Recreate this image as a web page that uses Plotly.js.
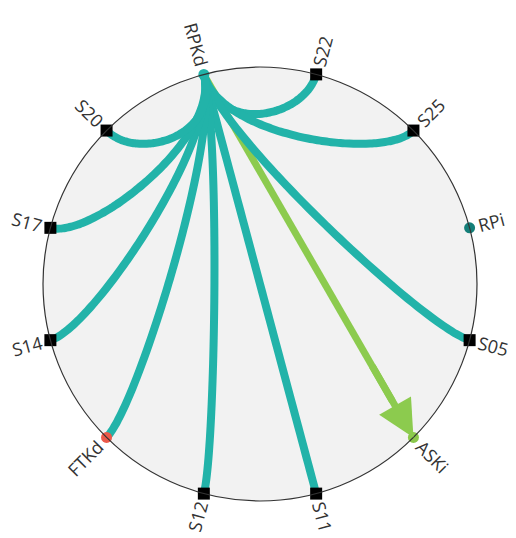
<!DOCTYPE html>
<html>
<head>
<meta charset="utf-8">
<script src="https://cdn.plot.ly/plotly-3.0.1.min.js"></script>
<style>
  html, body { margin: 0; padding: 0; background: #ffffff; }
  #chart { width: 516px; height: 538px; }
</style>
</head>
<body>
<div id="chart"></div>
<script>
// ---- data ----
const nodeNames  = ['RPKd', 'S22', 'S25', 'RPi', 'S05', 'ASKi', 'S11', 'S12', 'FTKd', 'S14', 'S17', 'S20'];
const nodeKinds  = ['circle', 'square', 'square', 'circle', 'square', 'circle', 'square', 'square', 'circle', 'square', 'square', 'square'];
const nodeColors = ['#22b3a9', '#000000', '#000000', '#147f79', '#000000', '#8cc84b', '#000000', '#000000', '#ea5a4b', '#000000', '#000000', '#000000'];
const edgeSources = ['RPKd', 'RPKd', 'RPKd', 'RPKd', 'RPKd', 'RPKd', 'RPKd', 'RPKd', 'RPKd'];
const edgeTargets = ['S22', 'S25', 'S05', 'S11', 'S12', 'FTKd', 'S14', 'S17', 'S20'];
const arrowSources = ['RPKd'];
const arrowTargets = ['ASKi'];

// ---- styling / geometry ----
const R_PX = 217;           // px per data unit (circle radius = 1)
const START_DEG = 105, STEP_DEG = -30;
const TEAL = '#22b3a9', GREEN = '#8ccb4e';
const LABEL_FONT = 'Open Sans, sans-serif';
const LABEL_SIZE = 18;

const angleOf = {};
const posOf = {};
nodeNames.forEach((n, i) => {
  const a = START_DEG + STEP_DEG * i;
  angleOf[n] = a;
  const r = a * Math.PI / 180;
  posOf[n] = [Math.cos(r), Math.sin(r)];
});

function bezier(p0, p3, k1, k2, n) {
  const p1 = [p0[0] * k1, p0[1] * k1];
  const p2 = [p3[0] * k2, p3[1] * k2];
  const xs = [], ys = [];
  for (let i = 0; i <= n; i++) {
    const t = i / n, u = 1 - t;
    const b0 = u * u * u, b1 = 3 * u * u * t, b2 = 3 * u * t * t, b3 = t * t * t;
    xs.push(b0 * p0[0] + b1 * p1[0] + b2 * p2[0] + b3 * p3[0]);
    ys.push(b0 * p0[1] + b1 * p1[1] + b2 * p2[1] + b3 * p3[1]);
  }
  return [xs, ys];
}

const traces = [];

// green arrow shaft (under the teal edges)
arrowSources.forEach((s, i) => {
  const a = posOf[s], b = posOf[arrowTargets[i]];
  traces.push({
    type: 'scatter', mode: 'lines', hoverinfo: 'skip', showlegend: false,
    x: [a[0], a[0] + (b[0] - a[0]) * 0.9], y: [a[1], a[1] + (b[1] - a[1]) * 0.9],
    line: { color: GREEN, width: 7 }
  });
});

// teal edges
edgeSources.forEach((s, i) => {
  const [xs, ys] = bezier(posOf[s], posOf[edgeTargets[i]], 0.7, 0.8, 60);
  traces.push({
    type: 'scatter', mode: 'lines', hoverinfo: 'skip', showlegend: false,
    x: xs, y: ys, line: { color: TEAL, width: 8, shape: 'spline' }
  });
});

// nodes
traces.push({
  type: 'scatter', mode: 'markers', showlegend: false, hoverinfo: 'text',
  text: nodeNames,
  x: nodeNames.map(n => posOf[n][0]),
  y: nodeNames.map(n => posOf[n][1]),
  marker: {
    symbol: nodeKinds,
    size: nodeKinds.map(k => k === 'square' ? 12 : 11),
    color: nodeColors,
    opacity: 1,
    line: { width: 0 }
  }
});

// label annotations (rotated radially)
const ctx = document.createElement('canvas').getContext('2d');
ctx.font = LABEL_SIZE + 'px "Open Sans"';
const annotations = nodeNames.map(n => {
  const a = angleOf[n];
  const norm = ((a % 360) + 360) % 360;
  const right = (norm < 90 || norm > 270);
  const textangle = right ? -a : 180 - a;
  const w = ctx.measureText(n).width;
  const d = 1 + (9 + w / 2) / R_PX;
  const r = a * Math.PI / 180;
  return {
    x: Math.cos(r) * d, y: Math.sin(r) * d, xref: 'x', yref: 'y',
    text: n, showarrow: false, textangle: ((textangle + 540) % 360) - 180,
    xanchor: 'center', yanchor: 'middle',
    font: { family: LABEL_FONT, size: LABEL_SIZE, color: '#333333' }
  };
});

// arrowhead
arrowSources.forEach((s, i) => {
  const a = posOf[s], b = posOf[arrowTargets[i]];
  annotations.push({
    x: b[0], y: b[1], ax: a[0] + (b[0] - a[0]) * 0.8, ay: a[1] + (b[1] - a[1]) * 0.8,
    xref: 'x', yref: 'y', axref: 'x', ayref: 'y',
    showarrow: true, arrowhead: 2, arrowsize: 1.05, arrowwidth: 7, arrowcolor: GREEN,
    text: '', standoff: 0
  });
});

const W = 516, H = 538, CX = 260, CY = 284;
const layout = {
  width: W, height: H, autosize: false,
  margin: { l: 0, r: 0, t: 0, b: 0 },
  paper_bgcolor: '#ffffff', plot_bgcolor: '#ffffff',
  showlegend: false,
  xaxis: { range: [-CX / R_PX, (W - CX) / R_PX], visible: false, fixedrange: true },
  yaxis: { range: [-(H - CY) / R_PX, CY / R_PX], visible: false, fixedrange: true },
  shapes: [
    { type: 'circle', xref: 'x', yref: 'y', x0: -1, y0: -1, x1: 1, y1: 1,
      fillcolor: '#f2f2f2', line: { width: 0 }, layer: 'below' },
    { type: 'circle', xref: 'x', yref: 'y', x0: -1, y0: -1, x1: 1, y1: 1,
      fillcolor: 'rgba(0,0,0,0)', line: { color: '#333333', width: 1.2 }, layer: 'above' }
  ],
  annotations: annotations
};

Plotly.newPlot('chart', traces, layout, { displayModeBar: false, staticPlot: true });
</script>
</body>
</html>
